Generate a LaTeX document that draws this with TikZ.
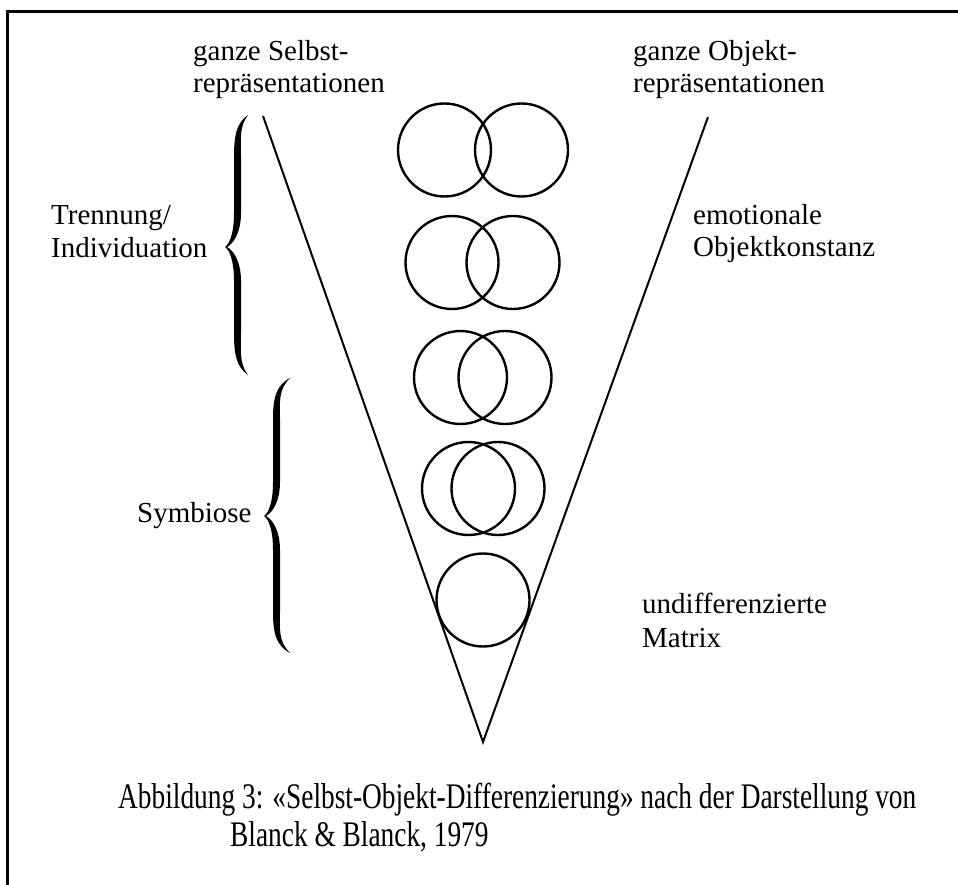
\documentclass[tikz,border=0pt]{standalone}
\usepackage{fontspec}
\setmainfont{Liberation Serif}
\newfontfamily\capfont[FakeStretch=0.76]{Liberation Serif}
\newcommand{\bracepath}[6]{% xe, xs, xt, ytop, ymid, ybot
  \fill ({#1},{#4}) .. controls ({#2-2},{#4+8}) and ({#2-4},{#4+22}) .. ({#2-4},{#4+42})
    -- ({#2-4},{#5-34}) .. controls ({#2-4},{#5-12}) and ({#3+4},{#5-3}) .. ({#3},{#5})
    .. controls ({#3+4},{#5+3}) and ({#2-4},{#5+12}) .. ({#2-4},{#5+34})
    -- ({#2-4},{#6-42}) .. controls ({#2-4},{#6-22}) and ({#2-2},{#6-8}) .. ({#1},{#6})
    .. controls ({#2+1},{#6-12}) and ({#2+3},{#6-24}) .. ({#2+3},{#6-42})
    -- ({#2+3},{#5+34}) .. controls ({#2+3},{#5+14}) and ({#3+8},{#5+3}) .. ({#3+2},{#5})
    .. controls ({#3+8},{#5-3}) and ({#2+3},{#5-14}) .. ({#2+3},{#5-34})
    -- ({#2+3},{#4+42}) .. controls ({#2+3},{#4+24}) and ({#2+1},{#4+12}) .. ({#1},{#4}) -- cycle;}
\begin{document}
\begin{tikzpicture}[x=1pt,y=-1pt,
  lbl/.style={anchor=base west, inner sep=0pt, font=\fontsize{29}{32}\selectfont},
  capline/.style={anchor=base west, inner sep=0pt, font=\capfont\fontsize{36}{40}\selectfont},
  ring/.style={circle, draw, line width=2.4pt, minimum size=93pt, inner sep=0pt, outer sep=0pt},
  vline/.style={line width=2pt},
  frameline/.style={line width=3pt}]
\useasboundingbox (0,0) rectangle (958,885);
\fill[white] (0,0) rectangle (958,885);
% frame (top and left edges)
\coordinate (ftr) at (958,12);
\coordinate (ftl) at (7,12);
\coordinate (fbl) at (7,885);
\draw[frameline] (ftr) -- (ftl) -- (fbl);
% V
\coordinate (vl) at (263,116);
\coordinate (apex) at (483,742);
\coordinate (vr) at (708,117);
\draw[vline, line join=miter] (vl) -- (apex) -- (vr);
% circles
\node[ring] (c1a) at (444.5,150) {};
\node[ring] (c1b) at (521.5,150) {};
\node[ring] (c2a) at (452,262.5) {};
\node[ring] (c2b) at (513,262.5) {};
\node[ring] (c3a) at (460.5,377.5) {};
\node[ring] (c3b) at (505,377.5) {};
\node[ring] (c4a) at (468.5,488.5) {};
\node[ring] (c4b) at (498,488.5) {};
\node[ring] (c5) at (483,600) {};
% braces
\bracepath{248}{238}{225}{115}{247}{375}
\bracepath{290}{277}{264}{378}{516}{653}
% labels
\node[lbl] (sel1) at (193,61) {ganze Selbst-};
\node[lbl] (sel2) at (193,93) {repräsentationen};
\node[lbl] (obj1) at (633,61) {ganze Objekt-};
\node[lbl] (obj2) at (633,93) {repräsentationen};
\node[lbl] (tr1) at (51,225) {Trennung/};
\node[lbl] (tr2) at (51,258) {Individuation};
\node[lbl] (emo1) at (693,225) {emotionale};
\node[lbl] (emo2) at (693,257) {Objektkonstanz};
\node[lbl] (sym) at (137,522) {Symbiose};
\node[lbl] (und1) at (642,613) {undifferenzierte};
\node[lbl] (und2) at (642,647) {Matrix};
% caption
\node[capline] (cap1) at (118,808) {Abbildung 3: «Selbst-Objekt-Differenzierung» nach der Darstellung von};
\node[capline] (cap2) at (230,846) {Blanck \& Blanck, 1979};
\end{tikzpicture}
\end{document}
